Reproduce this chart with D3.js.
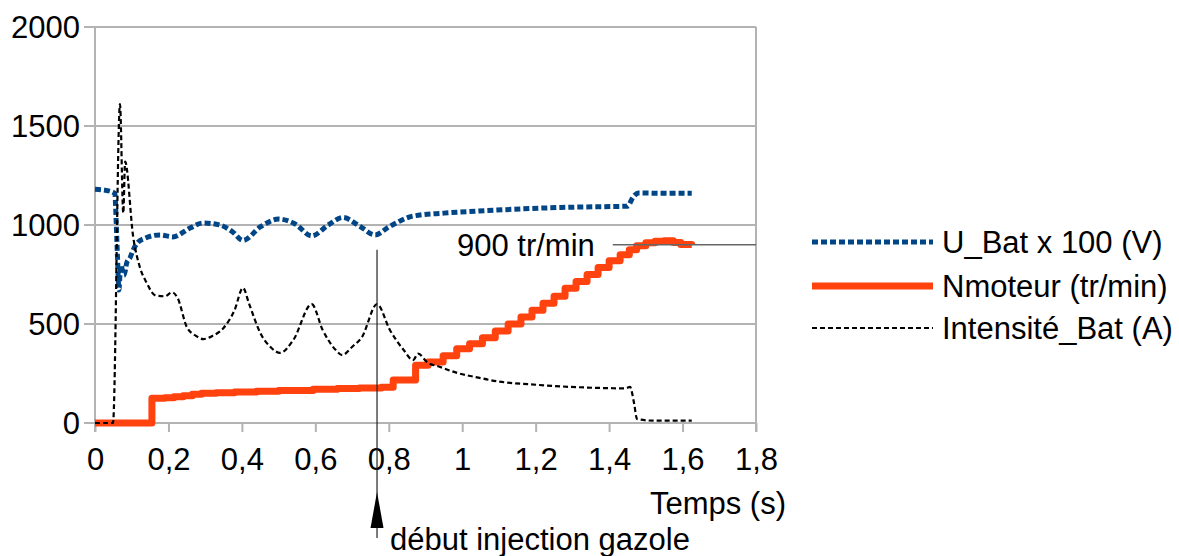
<!DOCTYPE html>
<html>
<head>
<meta charset="utf-8">
<script src="https://cdn.jsdelivr.net/npm/d3@7"></script>
<style>
  body { margin: 0; background: #fff; }
  text { font-family: "Liberation Sans", Arial, sans-serif; }
</style>
</head>
<body>
<div id="chart"></div>
<script>
// Temps (s) and values
var uBatTime = [0, 0.03, 0.054, 0.058, 0.062, 0.065, 0.070, 0.079, 0.087, 0.095, 0.104, 0.115, 0.137, 0.177, 0.212, 0.259, 0.294, 0.340, 0.375, 0.403, 0.45, 0.50, 0.545, 0.59, 0.635, 0.675, 0.72, 0.763, 0.80, 0.866, 0.95, 1.04, 1.21, 1.30, 1.45, 1.465, 1.48, 1.55, 1.625];
var uBatValue = [1180, 1175, 1160, 1000, 800, 672, 798, 747, 813, 833, 874, 909, 934, 950, 940, 985, 1010, 1000, 965, 922, 990, 1030, 1005, 945, 1000, 1038, 995, 950, 990, 1045, 1060, 1070, 1085, 1090, 1095, 1140, 1162, 1160, 1160];

var nMotTime = [0, 0.155, 0.19, 0.215, 0.24, 0.265, 0.29, 0.33, 0.38, 0.44, 0.50, 0.594, 0.66, 0.72, 0.78, 0.812, 0.873, 0.907, 0.948, 0.985, 1.02, 1.055, 1.09, 1.125, 1.16, 1.19, 1.22, 1.25, 1.28, 1.31, 1.34, 1.37, 1.40, 1.43, 1.455, 1.475, 1.50, 1.525, 1.55, 1.575, 1.595, 1.625];
var nMotValue = [0, 125, 128, 132, 138, 145, 150, 153, 156, 160, 164, 170, 174, 177, 180, 217, 292, 308, 340, 375, 400, 430, 465, 500, 535, 570, 605, 640, 680, 715, 750, 785, 820, 850, 875, 895, 910, 918, 920, 912, 902, 900];

var iBatTime = [0, 0.049, 0.068, 0.077, 0.082, 0.104, 0.122, 0.141, 0.163, 0.19, 0.21, 0.225, 0.25, 0.275, 0.295, 0.32, 0.35, 0.38, 0.403, 0.42, 0.45, 0.48, 0.504, 0.54, 0.59, 0.62, 0.655, 0.673, 0.70, 0.727, 0.768, 0.803, 0.84, 0.866, 0.88, 0.904, 0.94, 0.986, 1.05, 1.075, 1.21, 1.375, 1.443, 1.457, 1.468, 1.476, 1.52, 1.625];
var iBatValue = [0, 0, 1610, 1060, 1320, 940, 788, 707, 646, 640, 660, 631, 485, 440, 424, 440, 480, 570, 682, 600, 455, 380, 354, 419, 600, 470, 370, 343, 384, 434, 600, 470, 370, 318, 350, 308, 283, 253, 227, 217, 192, 177, 175, 182, 100, 20, 12, 12];

var xTicks = [0, 0.2, 0.4, 0.6, 0.8, 1, 1.2, 1.4, 1.6, 1.8];
var yTicks = [0, 500, 1000, 1500, 2000];
var seriesNames = ["U_Bat x 100 (V)", "Nmoteur (tr/min)", "Intensité_Bat (A)"];

var injectionTime = 0.768;
var refSpeed = 900;

var width = 1179, height = 556;
var margin = {left: 95, top: 27, right: 423, bottom: 133};
var gridColor = "#b3b3b3";
var fontSize = 31;

var svg = d3.select("#chart").append("svg")
    .attr("width", width)
    .attr("height", height);

var x = d3.scaleLinear().domain([0, 1.8]).range([margin.left, width - margin.right]);
var y = d3.scaleLinear().domain([0, 2000]).range([height - margin.bottom, margin.top]);

function zip(ts, vs) {
    return ts.map(function(t, i) { return {t: t, v: vs[i]}; });
}

// grid
svg.append("g").selectAll("line")
    .data(yTicks)
    .enter().append("line")
    .attr("x1", x(0) - 11).attr("x2", x(1.8))
    .attr("y1", function(d) { return y(d); })
    .attr("y2", function(d) { return y(d); })
    .attr("stroke", gridColor)
    .attr("stroke-width", 2);

svg.append("line")
    .attr("x1", x(0)).attr("x2", x(0))
    .attr("y1", y(2000)).attr("y2", y(0) + 9)
    .attr("stroke", gridColor).attr("stroke-width", 2);
svg.append("line")
    .attr("x1", x(1.8)).attr("x2", x(1.8))
    .attr("y1", y(2000)).attr("y2", y(0) + 9)
    .attr("stroke", gridColor).attr("stroke-width", 2);

// axes
var fmt = function(d) { return String(d).replace(".", ","); };

var xAxis = svg.append("g")
    .attr("transform", "translate(0," + y(0) + ")")
    .call(d3.axisBottom(x).tickValues(xTicks).tickFormat(fmt).tickSize(9).tickPadding(16));
xAxis.select(".domain").remove();
xAxis.selectAll(".tick line").attr("stroke", gridColor).attr("stroke-width", 2);
xAxis.selectAll("text").attr("font-size", fontSize).attr("fill", "#000")
    .style("font-family", "'Liberation Sans', Arial, sans-serif");

var yAxis = svg.append("g")
    .attr("transform", "translate(" + x(0) + ",0)")
    .call(d3.axisLeft(y).tickValues(yTicks).tickFormat(d3.format("d")).tickSize(0).tickPadding(15));
yAxis.select(".domain").remove();
yAxis.selectAll("text").attr("font-size", fontSize).attr("fill", "#000").attr("dy", "0.35em")
    .style("font-family", "'Liberation Sans', Arial, sans-serif");

// series
var series = [
    {name: seriesNames[0], data: zip(uBatTime, uBatValue), color: "#004586", width: 5, dash: "6,3", curve: d3.curveMonotoneX},
    {name: seriesNames[1], data: zip(nMotTime, nMotValue), color: "#ff420e", width: 7, dash: null, curve: d3.curveStepAfter},
    {name: seriesNames[2], data: zip(iBatTime, iBatValue), color: "#000000", width: 2.2, dash: "5,3", curve: d3.curveMonotoneX}
];

var drawOrder = [1, 0, 2];
drawOrder.forEach(function(k) {
    var s = series[k];
    var line = d3.line()
        .x(function(d) { return x(d.t); })
        .y(function(d) { return y(d.v); })
        .curve(s.curve);
    svg.append("path")
        .datum(s.data)
        .attr("d", line)
        .attr("fill", "none")
        .attr("stroke", s.color)
        .attr("stroke-width", s.width)
        .attr("stroke-linejoin", "round")
        .attr("stroke-dasharray", s.dash);
});

// annotations
svg.append("line")
    .attr("x1", x(1.41)).attr("x2", x(1.8))
    .attr("y1", y(refSpeed)).attr("y2", y(refSpeed))
    .attr("stroke", "#666").attr("stroke-width", 1.5);
svg.append("text")
    .attr("x", x(1.41) - 18).attr("y", y(refSpeed) + 11)
    .attr("text-anchor", "end")
    .attr("font-size", fontSize)
    .text(refSpeed + " tr/min");

var ax = x(injectionTime);
svg.append("line")
    .attr("x1", ax).attr("x2", ax)
    .attr("y1", y(875)).attr("y2", 538)
    .attr("stroke", "#222").attr("stroke-width", 1.2);
svg.append("path")
    .attr("d", "M" + ax + ",492 L" + (ax - 6.5) + ",528 L" + (ax + 6.5) + ",528 Z")
    .attr("fill", "#000");
svg.append("text")
    .attr("x", ax + 13).attr("y", 550)
    .attr("font-size", fontSize)
    .text("début injection gazole");

svg.append("text")
    .attr("x", 786).attr("y", 514)
    .attr("text-anchor", "end")
    .attr("font-size", fontSize)
    .text("Temps (s)");

// legend
var legendY = [242, 286, 328];
var legend = svg.append("g");
series.forEach(function(s, i) {
    legend.append("line")
        .attr("x1", 812).attr("x2", 933)
        .attr("y1", legendY[i]).attr("y2", legendY[i])
        .attr("stroke", s.color)
        .attr("stroke-width", s.width)
        .attr("stroke-dasharray", s.dash);
    legend.append("text")
        .attr("x", 942).attr("y", legendY[i] + 11)
        .attr("font-size", fontSize)
        .text(s.name);
});
</script>
</body>
</html>
